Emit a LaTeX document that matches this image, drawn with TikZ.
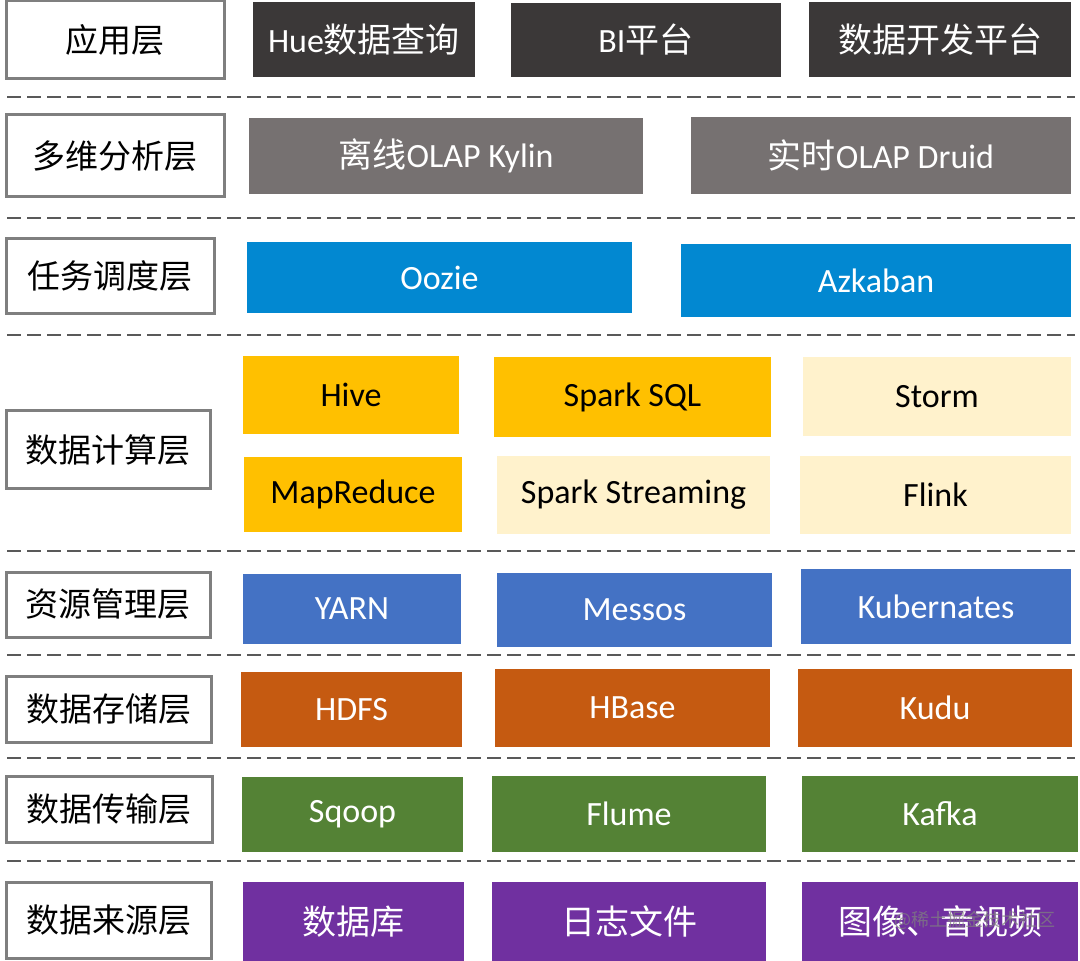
\documentclass[tikz,border=0pt]{standalone}
\usepackage{fontspec}
\setmainfont{Carlito}
\newfontfamily\cjk{Noto Sans CJK SC}
\usepackage{xcolor}
\usepackage{tikz}
\definecolor{appdark}{HTML}{3B3838}
\definecolor{olapgray}{HTML}{767171}
\definecolor{jobblue}{HTML}{0288D1}
\definecolor{calcgold}{HTML}{FFC000}
\definecolor{calclight}{HTML}{FFF2CC}
\definecolor{resblue}{HTML}{4472C4}
\definecolor{storeorange}{HTML}{C55A11}
\definecolor{transgreen}{HTML}{548235}
\definecolor{srcpurple}{HTML}{7030A0}
\definecolor{framegray}{HTML}{7F7F7F}
\definecolor{sepgray}{HTML}{595959}
\tikzstyle{layer} = [draw=framegray, line width=1.5pt, fill=white, inner sep=0pt, font=\cjk\fontsize{16.5}{19}\selectfont]
\tikzstyle{comp} = [inner sep=0pt, text=white, font=\fontsize{17}{20}\selectfont]
\tikzstyle{sep} = [draw=sepgray, line width=1pt, dash pattern=on 7pt off 3pt]

\begin{document}
\begin{tikzpicture}[x=0.5pt, y=-0.5pt]
    \useasboundingbox (0,0) rectangle (1080,961);

    % Trennlinien
    \foreach \y in {97, 218, 335, 551, 655, 758, 861}
        \draw[sep] (7,\y) -- (1075,\y);

    % Ebenen
    \node[layer, minimum width=109pt, minimum height=39pt] (app) at (115,40) {应用层};
    \node[layer, minimum width=109pt, minimum height=41pt] (olap) at (115,156) {多维分析层};
    \node[layer, minimum width=104pt, minimum height=37.5pt] (sched) at (110,276.5) {任务调度层};
    \node[layer, minimum width=102pt, minimum height=39pt] (calc) at (108,450) {数据计算层};
    \node[layer, minimum width=102pt, minimum height=32.5pt] (res) at (108,604.5) {资源管理层};
    \node[layer, minimum width=102.5pt, minimum height=33pt] (store) at (108.5,709) {数据存储层};
    \node[layer, minimum width=103pt, minimum height=33pt] (trans) at (109,809) {数据传输层};
    \node[layer, minimum width=102.5pt, minimum height=38pt] (src) at (108.5,920) {数据来源层};

    % Anwendung
    \node[comp, fill=appdark, minimum width=111pt, minimum height=37.5pt] (hue) at (364,39.5) {Hue{\cjk 数据查询}};
    \node[comp, fill=appdark, minimum width=135pt, minimum height=37pt] (bi) at (646,40) {BI{\cjk 平台}};
    \node[comp, fill=appdark, minimum width=131pt, minimum height=37.5pt] (dev) at (940,39.5) {\cjk 数据开发平台};

    % OLAP
    \node[comp, fill=olapgray, minimum width=197pt, minimum height=38pt] (kylin) at (446,156) {{\cjk 离线}OLAP Kylin};
    \node[comp, fill=olapgray, minimum width=190pt, minimum height=38.5pt] (druid) at (881,155.5) {{\cjk 实时}OLAP Druid};

    % Scheduler
    \node[comp, fill=jobblue, minimum width=192.5pt, minimum height=35.5pt] (oozie) at (439.5,277.5) {Oozie};
    \node[comp, fill=jobblue, minimum width=195pt, minimum height=36.5pt] (azkaban) at (876,280.5) {Azkaban};

    % Berechnung
    \node[comp, text=black, fill=calcgold, minimum width=108pt, minimum height=39pt] (hive) at (351,395) {Hive};
    \node[comp, text=black, fill=calcgold, minimum width=138.5pt, minimum height=40pt] (sparksql) at (632.5,397) {Spark SQL};
    \node[comp, text=black, fill=calclight, minimum width=134pt, minimum height=39.5pt] (storm) at (937,396.5) {Storm};
    \node[comp, text=black, fill=calcgold, minimum width=109pt, minimum height=37.5pt] (mapreduce) at (353,494.5) {MapReduce};
    \node[comp, text=black, fill=calclight, minimum width=136.5pt, minimum height=39pt] (streaming) at (633.5,495) {Spark Streaming};
    \node[comp, text=black, fill=calclight, minimum width=135.5pt, minimum height=39pt] (flink) at (935.5,495) {Flink};

    % Ressourcen
    \node[comp, fill=resblue, minimum width=109pt, minimum height=35pt] (yarn) at (352,609) {YARN};
    \node[comp, fill=resblue, minimum width=137.5pt, minimum height=37pt] (messos) at (634.5,610) {Messos};
    \node[comp, fill=resblue, minimum width=135pt, minimum height=37.5pt] (kubernates) at (936,606.5) {Kubernates};

    % Speicher
    \node[comp, fill=storeorange, minimum width=110.5pt, minimum height=37.5pt] (hdfs) at (351.5,709.5) {HDFS};
    \node[comp, fill=storeorange, minimum width=137.5pt, minimum height=39pt] (hbase) at (632.5,708) {HBase};
    \node[comp, fill=storeorange, minimum width=137pt, minimum height=39pt] (kudu) at (935,708) {Kudu};

    % Transport
    \node[comp, fill=transgreen, minimum width=110.5pt, minimum height=37.5pt] (sqoop) at (352.5,814.5) {Sqoop};
    \node[comp, fill=transgreen, minimum width=137pt, minimum height=38pt] (flume) at (629,814) {Flume};
    \node[comp, fill=transgreen, minimum width=138pt, minimum height=38pt] (kafka) at (940,814) {Kafka};

    % Quellen
    \node[comp, fill=srcpurple, minimum width=110.5pt, minimum height=39.5pt] (db) at (353.5,921.5) {\cjk 数据库};
    \node[comp, fill=srcpurple, minimum width=137pt, minimum height=39.5pt] (logs) at (629,921.5) {\cjk 日志文件};
    \node[comp, fill=srcpurple, minimum width=138pt, minimum height=39.5pt] (media) at (940,921.5) {\cjk 图像、音视频};

    % Wasserzeichen
    \node[text=gray, opacity=0.75, font=\cjk\fontsize{9}{10}\selectfont] (mark) at (975,920) {@稀土掘金技术社区};
\end{tikzpicture}
\end{document}
